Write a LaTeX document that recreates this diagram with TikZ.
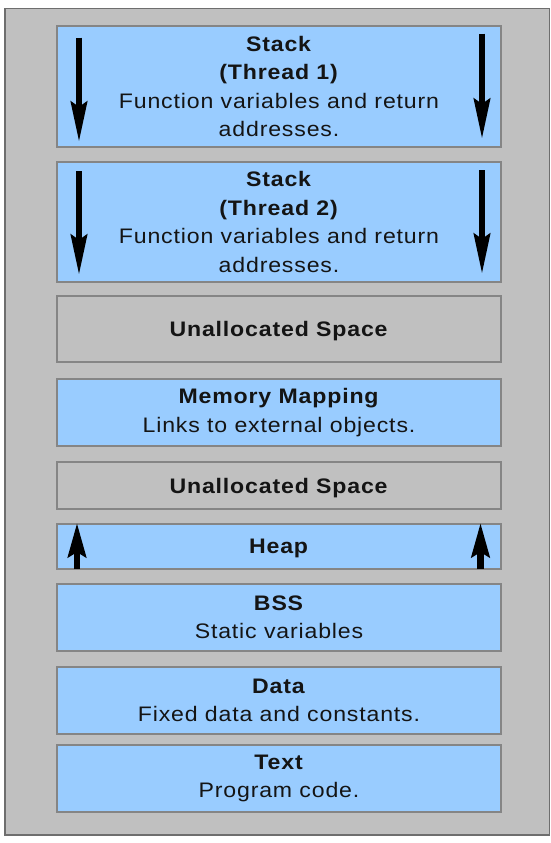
\documentclass[tikz,border=0pt]{standalone}
\usepackage{fontspec}
\setmainfont{Liberation Sans}[FakeStretch=1.1, LetterSpace=4]
\usetikzlibrary{arrows.meta}
\definecolor{bgGray}{HTML}{C0C0C0}
\definecolor{outerLine}{HTML}{6E6E6E}
\definecolor{boxLine}{HTML}{858585}
\definecolor{segBlue}{HTML}{99CCFF}
\definecolor{txt}{HTML}{141414}
\tikzset{
  seg/.style={draw=boxLine, line width=1.5bp, fill=segBlue, minimum width=444bp,
    inner sep=0pt, align=center, text=txt,
    font=\fontsize{21bp}{28.5bp}\selectfont},
  freeseg/.style={seg, fill=bgGray},
  oneline/.style={text depth=0pt},
  growarrow/.style={line width=6.5bp, black,
    -{Stealth[length=40bp, width=16bp, inset=5bp]}},
  heaparrow/.style={line width=6.5bp, black,
    -{Stealth[length=34bp, width=18bp, inset=5bp]}}
}
\begin{document}
\begin{tikzpicture}[x=1bp, y=-1bp]
\useasboundingbox (0,0) rectangle (551,843);
\draw[draw=outerLine, line width=1.5bp, fill=bgGray] (5,8.5) rectangle (549.5,835);

\node[seg, minimum height=121bp] (stack1) at (279,86.5)
  {\textbf{Stack}\\\textbf{(Thread 1)}\\Function variables and return\\addresses.};
\node[seg, minimum height=120bp] (stack2) at (279,222)
  {\textbf{Stack}\\\textbf{(Thread 2)}\\Function variables and return\\addresses.};
\node[freeseg, oneline, minimum height=66bp] (unalloc1) at (279,329)
  {\textbf{Unallocated Space}};
\node[seg, minimum height=67bp] (mmap) at (279,412.5)
  {\textbf{Memory Mapping}\\Links to external objects.};
\node[freeseg, oneline, minimum height=47bp] (unalloc2) at (279,485.5)
  {\textbf{Unallocated Space}};
\node[seg, oneline, minimum height=45bp] (heap) at (279,546.5)
  {\textbf{Heap}};
\node[seg, minimum height=67bp] (bss) at (279,617.5)
  {\textbf{BSS}\\Static variables};
\node[seg, minimum height=67bp] (data) at (279,700.5)
  {\textbf{Data}\\Fixed data and constants.};
\node[seg, minimum height=67bp] (text) at (279,778.5)
  {\textbf{Text}\\Program code.};

% growth arrows
\coordinate (s1lA) at (79,37.5);  \coordinate (s1lB) at (79,142);
\coordinate (s1rA) at (482,33.5); \coordinate (s1rB) at (482,139);
\coordinate (s2lA) at (79,171);   \coordinate (s2lB) at (79,275);
\coordinate (s2rA) at (482,170);  \coordinate (s2rB) at (482,274);
\coordinate (hlA) at (77,569);    \coordinate (hlB) at (77,523);
\coordinate (hrA) at (480.5,569); \coordinate (hrB) at (480.5,523);
\draw[growarrow] (s1lA) -- (s1lB);
\draw[growarrow] (s1rA) -- (s1rB);
\draw[growarrow] (s2lA) -- (s2lB);
\draw[growarrow] (s2rA) -- (s2rB);
\draw[heaparrow] (hlA) -- (hlB);
\draw[heaparrow] (hrA) -- (hrB);
\end{tikzpicture}
\end{document}
